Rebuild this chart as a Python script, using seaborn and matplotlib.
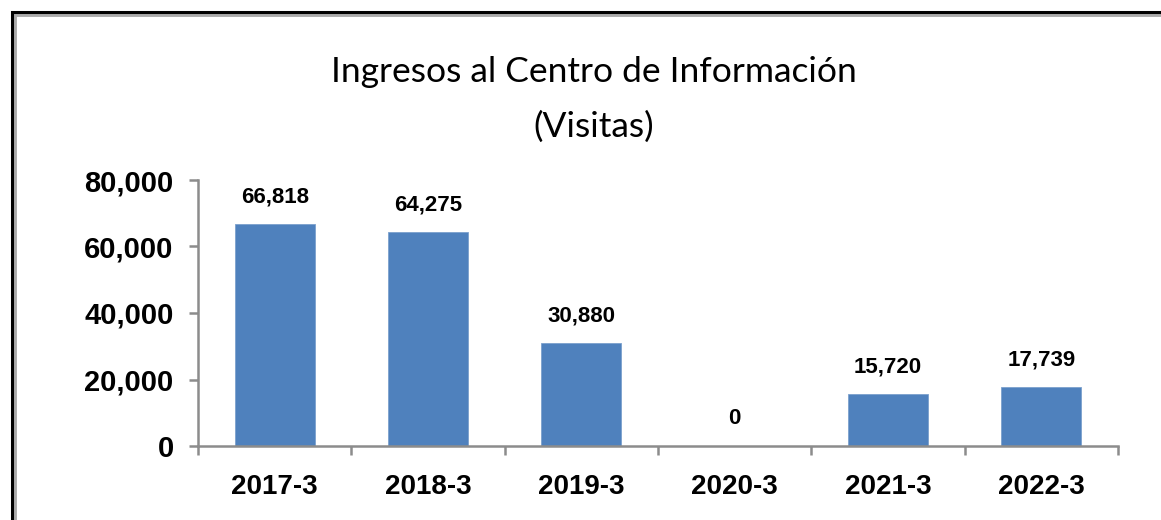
import numpy as np
import pandas as pd
import matplotlib.pyplot as plt
import seaborn as sns
from matplotlib.patches import Rectangle
from matplotlib.ticker import FuncFormatter, FixedLocator

# Data
periodos = ["2017-3", "2018-3", "2019-3", "2020-3", "2021-3", "2022-3"]
visitas = [66818, 64275, 30880, 0, 15720, 17739]

df = pd.DataFrame({"periodo": periodos, "visitas": visitas})

sns.set_style("white")
plt.rcParams['font.family'] = ['Liberation Sans', 'DejaVu Sans']
plt.rcParams['text.color'] = 'black'
plt.rcParams['xtick.labelcolor'] = 'black'
plt.rcParams['ytick.labelcolor'] = 'black'

fig = plt.figure(figsize=(11.61, 5.2), dpi=100)
ax = fig.add_axes([198 / 1161, 1 - 446 / 520, (1118 - 198) / 1161, (446 - 180) / 520])

sns.barplot(data=df, x="periodo", y="visitas", color="#4F81BD", width=0.52,
            saturation=1, edgecolor="#7BA0CD", linewidth=0.6, ax=ax)

ax.set_xlim(-0.5, len(periodos) - 0.5)
ax.set_ylim(0, 80000)
ax.set_yticks([0, 20000, 40000, 60000, 80000])
ax.yaxis.set_major_formatter(FuncFormatter(lambda v, p: f"{int(v):,}"))
ax.set_xlabel("")
ax.set_ylabel("")

# value labels
for i, v in enumerate(visitas):
    ax.annotate(f"{v:,}", (i, v), xytext=(0, 12), textcoords="offset points",
                ha="center", va="bottom", fontsize=16, fontweight="bold",
                color="black")

# spines / ticks
gris = "#8C8C8C"
for s in ["top", "right"]:
    ax.spines[s].set_visible(False)
for s in ["left", "bottom"]:
    ax.spines[s].set_color(gris)
    ax.spines[s].set_linewidth(1.8)

ax.tick_params(axis="y", which="major", direction="out", length=6.5, width=1.8,
               color=gris, pad=11, labelsize=21, left=True, labelcolor="black")
for t in ax.get_yticklabels():
    t.set_fontweight("bold")

ax.xaxis.set_minor_locator(FixedLocator(np.arange(-0.5, len(periodos), 1.0)))
ax.tick_params(axis="x", which="major", length=0, pad=20, labelsize=20,
               labelcolor="black")
ax.tick_params(axis="x", which="minor", direction="out", length=6.5, width=1.8,
               color=gris, bottom=True)
for t in ax.get_xticklabels():
    t.set_fontweight("bold")

# title
fig.text(594 / 1161, 1 - 72 / 520, "Ingresos al Centro de Información",
         ha="center", va="center", fontsize=25.5, color="black",
         family=["Lato", "DejaVu Sans"])
fig.text(594 / 1161, 1 - 127 / 520, "(Visitas)",
         ha="center", va="center", fontsize=25.5, color="black",
         family=["Lato", "DejaVu Sans"])

# outer frame (left and top visible)
fig.patches.append(Rectangle((14 / 1161, -0.2), 1.2, 1 - 14 / 520 + 0.2,
                             transform=fig.transFigure, fill=False,
                             edgecolor="#AAAAAA", linewidth=3.5, zorder=0))
fig.patches.append(Rectangle((12 / 1161, -0.2), 1.2, 1 - 12 / 520 + 0.2,
                             transform=fig.transFigure, fill=False,
                             edgecolor="black", linewidth=2.2, zorder=1))

fig.savefig("out.png", dpi=100)
